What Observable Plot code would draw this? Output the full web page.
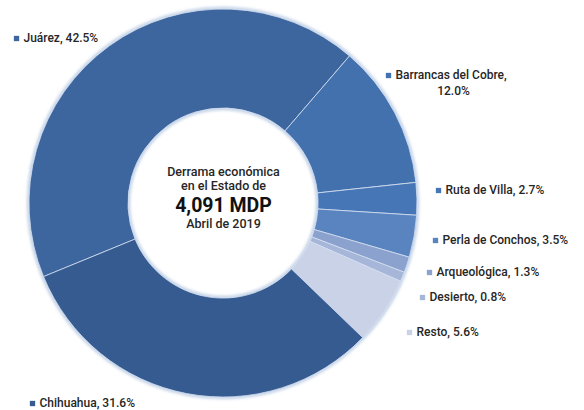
<!DOCTYPE html>
<html><head><meta charset="utf-8">
<script src="https://cdn.jsdelivr.net/npm/d3@7"></script>
<script src="https://cdn.jsdelivr.net/npm/@observablehq/plot@0.6"></script>
<style>
body{margin:0;background:#fff;}
#chart svg{font-family:Roboto,"Liberation Sans",sans-serif;}
</style>
</head><body><div id="chart"></div>
<script>
// ---- data ----
const categories = ["Juárez","Barrancas del Cobre","Ruta de Villa","Perla de Conchos","Arqueológica","Desierto","Resto","Chihuahua"];
const shares = [42.5, 12.0, 2.7, 3.5, 1.3, 0.8, 5.6, 31.6];
const colors = ["#3d669e","#4271ae","#4676b6","#5a84bf","#8aa2cd","#a6b6d9","#c9d2e6","#355b91"];
const centerLines = ["Derrama económica","en el Estado de","4,091 MDP","Abril de 2019"];

// ---- layout (pixels) ----
const W = 584, H = 410, CX = 223, CY = 203, R = 194, INNER = 0.49;
const START_DEG = -112.3;
const markerPx = [[16,38],[388,75],[438,190],[435,240],[429,272],[422,297],[409,332],[32,403]];
const centerPy = [171,185,205,223];
const toX = px => (px - CX) / R, toY = py => (CY - py) / R;

const rows = categories.map((c,i) => ({category:c, share:shares[i]}));
const pie = d3.pie().sort(null).value(d => d.share)
  .startAngle(START_DEG*Math.PI/180).endAngle((START_DEG+360)*Math.PI/180);
const arcs = pie(rows);

const labels = rows.map((d,i) => ({
  category: d.category,
  mx: toX(markerPx[i][0]), my: toY(markerPx[i][1]),
  tx: toX(markerPx[i][0] + 7), ty: toY(markerPx[i][1]),
  text: d.category === "Barrancas del Cobre" ? d.category + "," : `${d.category}, ${d.share.toFixed(1)}%`
}));
const bIdx = categories.indexOf("Barrancas del Cobre");
const secondLine = [{x: toX(markerPx[bIdx][0] + 65), y: toY(markerPx[bIdx][1] + 16), text: shares[bIdx].toFixed(1) + "%"}];

const center = centerLines.map((t,i) => ({text:t, y: toY(centerPy[i]), big: i === 2}));

function donut(index, scales) {
  const x0 = scales.x(0), y0 = scales.y(0);
  const r = scales.x(1) - x0;
  const g = d3.create("svg:g").attr("transform", `translate(${x0},${y0})`);
  const defs = g.append("defs");
  defs.append("filter").attr("id","glow").attr("x","-20%").attr("y","-20%").attr("width","140%").attr("height","140%")
    .append("feGaussianBlur").attr("stdDeviation", 1.6);
  g.append("circle").attr("r", r + 0.5).attr("fill","none").attr("stroke","#b9cbe3").attr("stroke-width",3).attr("filter","url(#glow)");
  g.append("circle").attr("r", r*INNER - 0.5).attr("fill","none").attr("stroke","#b9cbe3").attr("stroke-width",3).attr("filter","url(#glow)");
  const arc = d3.arc().innerRadius(r*INNER).outerRadius(r);
  g.selectAll("path.slice").data(arcs).join("path")
    .attr("class","slice")
    .attr("d", arc)
    .attr("fill", d => scales.color(d.data.category))
    .attr("stroke", "#d3def0").attr("stroke-width", 0.8).attr("stroke-linejoin","round");
  return g.node();
}

const chart = Plot.plot({
  width: W, height: H,
  marginLeft: CX - R, marginRight: W - (CX + R),
  marginTop: CY - R, marginBottom: H - (CY + R),
  x: {domain: [-1, 1], axis: null},
  y: {domain: [-1, 1], axis: null},
  color: {domain: categories, range: colors},
  style: {background: "#fff", overflow: "visible"},
  marks: [
    donut,
    Plot.dot(labels, {x: "mx", y: "my", fill: "category", symbol: "square", r: 3}),
    Plot.text(labels, {x: "tx", y: "ty", text: "text", textAnchor: "start", fill: "#262626", fontSize: 12, fontWeight: 500}),
    Plot.text(secondLine, {x: "x", y: "y", text: "text", textAnchor: "middle", fill: "#262626", fontSize: 12, fontWeight: 500}),
    Plot.text(center.filter(d => !d.big), {x: 0, y: "y", text: "text", fill: "#262626", fontSize: 12.5, fontWeight: 500}),
    Plot.text(center.filter(d => d.big), {x: 0, y: "y", text: "text", fill: "#111", fontSize: 19.5, fontWeight: 700})
  ]
});
document.getElementById("chart").append(chart);
</script>
</body></html>
